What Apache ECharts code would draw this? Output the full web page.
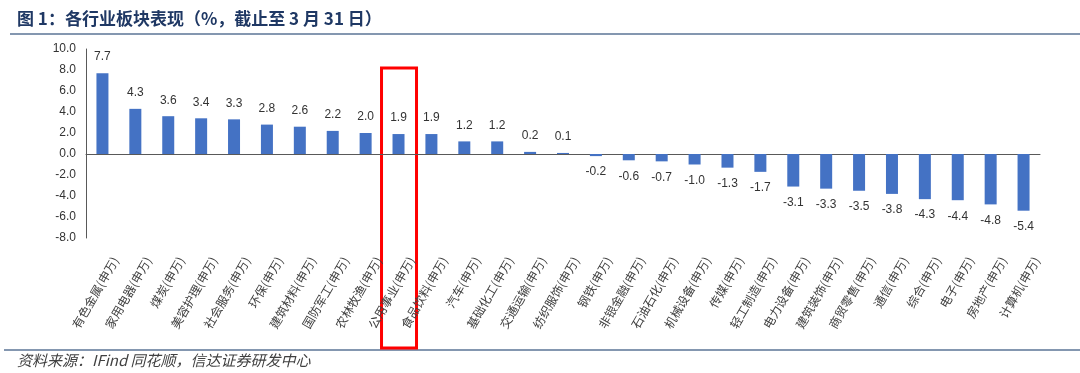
<!DOCTYPE html>
<html><head><meta charset="utf-8">
<script src="https://cdn.jsdelivr.net/npm/echarts@6/dist/echarts.min.js"></script>
<style>html,body{margin:0;padding:0;background:#fff;}#c{width:1080px;height:373px;}</style>
</head><body><div id="c"></div>
<script>
const categories = ['有色金属','家用电器','煤炭','美容护理','社会服务','环保','建筑材料','国防军工','农林牧渔','公用事业','食品饮料','汽车','基础化工','交通运输','纺织服饰','钢铁','非银金融','石油石化','机械设备','传媒','轻工制造','电力设备','建筑装饰','商贸零售','通信','综合','电子','房地产','计算机'];
const values = [7.7,4.3,3.6,3.4,3.3,2.8,2.6,2.2,2.0,1.9,1.9,1.2,1.2,0.2,0.1,-0.2,-0.6,-0.7,-1.0,-1.3,-1.7,-3.1,-3.3,-3.5,-3.8,-4.3,-4.4,-4.8,-5.4];
const suffix = '(申万)';
const highlightCategory = '公用事业';
const title = '图 1：各行业板块表现（%，截止至 3 月 31 日）';
const source = '资料来源：IFind 同花顺，信达证券研发中心';

const chart = echarts.init(document.getElementById('c'), null, {renderer:'canvas'});
const labels = categories.map(c => c + suffix);
const option = {
  animation: false,
  backgroundColor: '#fff',
  grid: [
    {left: 86, right: 40, top: 49, bottom: 135},
    {left: 99, right: 27, top: 49, bottom: 135}
  ],
  xAxis: [
    {type:'category', gridIndex:0, data: labels, axisLine:{onZero:true, lineStyle:{color:'#595959', width:1}},
     axisTick:{show:false}, axisLabel:{show:false}},
    {type:'category', gridIndex:1, data: labels, position:'bottom', axisLine:{show:false}, axisTick:{show:false},
     axisLabel:{rotate:60, interval:0, margin:20, fontSize:12, color:'#404040', fontFamily:'Noto Sans CJK SC'}}
  ],
  yAxis: [
    {type:'value', gridIndex:0, min:-8, max:10, interval:2,
     axisLine:{show:true, lineStyle:{color:'#595959'}}, axisTick:{show:false}, splitLine:{show:false},
     axisLabel:{formatter: v => v.toFixed(1), fontSize:12, color:'#333', fontFamily:'Liberation Sans', margin:10}},
    {type:'value', gridIndex:1, min:-8, max:10, show:false}
  ],
  series: [{type:'bar', xAxisIndex:0, yAxisIndex:0, data: values.map(v => ({value:v, label:{position: v>=0?'top':'bottom'}})), barWidth:12, itemStyle:{color:'#4472C4'},
    label:{show:true, distance:10, fontSize:12, color:'#333', fontFamily:'Liberation Sans', formatter: p => p.value.toFixed(1)}}],
  graphic: [
    {type:'text', left:17, top:10, style:{text:title, font:'bold 17px "Noto Sans CJK SC"', fill:'#1F3864'}},
    {type:'rect', shape:{x:10, y:33, width:1070, height:2}, style:{fill:'#8497B0'}},
    {type:'rect', shape:{x:4, y:349, width:1076, height:2}, style:{fill:'#8497B0'}},
    {type:'text', left:17, top:353, style:{text:source, font:'italic 15px "Noto Sans CJK SC"', fill:'#404040'}}
  ]
};
chart.setOption(option);
const cx = chart.convertToPixel({xAxisIndex:0}, labels[categories.indexOf(highlightCategory)]);
chart.setOption({graphic: option.graphic.concat([
  {type:'rect', shape:{x: cx-17, y:68, width:35, height:280}, style:{fill:'none', stroke:'#FF0000', lineWidth:3}}
])});
</script></body></html>
